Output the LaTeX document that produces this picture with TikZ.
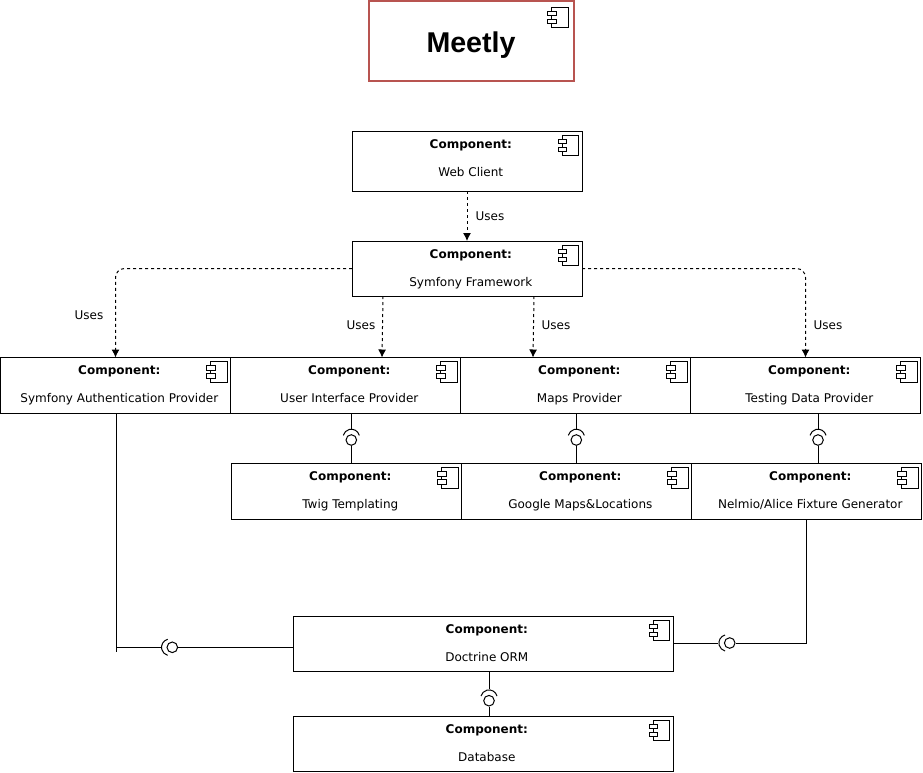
\documentclass[tikz,border=0pt]{standalone}
\usepackage{fontspec}
\usepackage{tikz}
\usetikzlibrary{arrows.meta}
\setmainfont{DejaVu Sans}
\newfontfamily\titlefont{Liberation Sans}
\tikzset{
    compframe/.style={draw=black, inner sep=0pt, outer sep=0pt},
    comptitle/.style={anchor=base, inner sep=0pt, font=\fontsize{12}{14}\selectfont\bfseries},
    compname/.style={anchor=base, inner sep=0pt, font=\fontsize{12}{14}\selectfont},
    useslabel/.style={inner sep=0pt, font=\fontsize{12}{14}\selectfont},
    usesarrow/.style={dash pattern=on 3pt off 3pt, -{Latex[length=8pt,width=8pt]}},
    ifacering/.style={circle, draw=black, inner sep=0pt, minimum size=10.6pt},
    pics/compicon/.style={code={
        \draw (-16.5,0) rectangle (0,-20.5);
        \draw[fill=white] (-20.5,-4) rectangle (-12,-8.7);
        \draw[fill=white] (-20.5,-12) rectangle (-12,-16.7);
    }},
    pics/ifacesocket/.style={code={
        \draw (2.5,0) ++(-75:8.3pt) arc[start angle=-75, end angle=75, radius=8.3pt];
    }},
}
\newcommand{\compbox}[6]{
    \node[compframe, minimum width=#4, minimum height=#5, anchor=north] (#1) at (#2,-#3) {};
    \node[comptitle] (#1title) at ([shift={(3.8,-17)}]#1.north) {Component:};
    \node[compname] (#1name) at ([shift={(3.8,-45)}]#1.north) {#6};
    \pic at ([shift={(-3.5,-4)}]#1.north east) {compicon};
}
\begin{document}
\begin{tikzpicture}[x=1pt, y=1pt, line width=1pt]
    \useasboundingbox (0,0) rectangle (923,-772);

    \node[draw={rgb,255:red,184;green,84;blue,80}, line width=2pt, inner sep=0pt, minimum width=205, minimum height=80] (meetly) at (471.5,-41) {};
    \node[anchor=base, inner sep=0pt, font=\titlefont\fontsize{28.6}{32}\selectfont\bfseries] (meetlyname) at (471,-52) {Meetly};
    \pic at ([shift={(-7,-7)}]meetly.north east) {compicon};

    \compbox{webclient}{467}{131}{230}{60}{Web Client}
    \compbox{symfony}{467}{241}{230}{55}{Symfony Framework}
    \compbox{authprov}{115.5}{357.5}{230}{55.5}{Symfony Authentication Provider}
    \compbox{uiprov}{345.5}{357.5}{230}{55.5}{User Interface Provider}
    \compbox{mapsprov}{575.5}{357.5}{230}{55.5}{Maps Provider}
    \compbox{testprov}{805.5}{357.5}{230}{55.5}{Testing Data Provider}
    \compbox{twig}{346.5}{463.5}{230}{55.5}{Twig Templating}
    \compbox{gmaps}{576.5}{463.5}{230}{55.5}{Google Maps\&Locations}
    \compbox{nelmio}{806.5}{463.5}{230}{55.5}{Nelmio/Alice Fixture Generator}
    \compbox{doctrine}{483}{616}{380}{55}{Doctrine ORM}
    \compbox{database}{483}{716}{380}{55}{Database}

    \coordinate (symfonyleft) at (352,-268.5);
    \coordinate (symfonyright) at (582,-268.5);
    \draw[usesarrow] (webclient.south) -- (symfony.north);
    \draw[usesarrow, rounded corners=9pt] (symfonyleft) -| (authprov.north);
    \draw[usesarrow, rounded corners=9pt] (symfonyright) -| (testprov.north);
    \coordinate (uitop) at (383,-296);
    \coordinate (mapstop) at (534,-296);
    \coordinate (uiend) at (382,-357.5);
    \coordinate (mapsend) at (533,-357.5);
    \draw[usesarrow] (uitop) -- (uiend);
    \draw[usesarrow] (mapstop) -- (mapsend);

    \node[useslabel] (usesweb) at (490,-216.5) {Uses};
    \node[useslabel] (usesauth) at (89,-315.5) {Uses};
    \node[useslabel] (usesui) at (361,-325.5) {Uses};
    \node[useslabel] (usesmaps) at (556,-325.5) {Uses};
    \node[useslabel] (usestest) at (828,-325.5) {Uses};

    \node[ifacering] (uiring) at (351.3,-440) {};
    \node[ifacering] (mapsring) at (576.3,-440) {};
    \node[ifacering] (testring) at (818,-440) {};
    \node[ifacering] (dbring) at (489,-700.7) {};
    \node[ifacering] (authring) at (172.3,-647.3) {};
    \node[ifacering] (nelmioring) at (729.7,-643) {};
    \pic[rotate=90] at (uiring) {ifacesocket};
    \pic[rotate=90] at (mapsring) {ifacesocket};
    \pic[rotate=90] at (testring) {ifacesocket};
    \pic[rotate=90] at (dbring) {ifacesocket};
    \pic[rotate=180] at (authring) {ifacesocket};
    \pic[rotate=180] at (nelmioring) {ifacesocket};

    \draw[shorten >=5.5pt] (uiring |- uiprov.south) -- (uiring.north);
    \draw (uiring.south) -- (uiring |- twig.north);
    \draw[shorten >=5.5pt] (mapsring |- mapsprov.south) -- (mapsring.north);
    \draw (mapsring.south) -- (mapsring |- gmaps.north);
    \draw[shorten >=5.5pt] (testring |- testprov.south) -- (testring.north);
    \draw (testring.south) -- (testring |- nelmio.north);
    \draw[shorten >=5.5pt] (dbring |- doctrine.south) -- (dbring.north);
    \draw (dbring.south) -- (dbring |- database.north);

    \coordinate (authend) at (116,-651.5);
    \draw (authend |- authprov.south) -- (authend);
    \draw[shorten >=5.5pt] (authend |- authring) -- (authring.west);
    \draw (authring.east) -- (authring -| doctrine.west);

    \coordinate (nelmioend) at (806.5,-643);
    \draw (nelmio.south) -- (nelmioend);
    \draw (nelmioend) -- (nelmioring.east);
    \draw[shorten >=5.5pt] (nelmioring -| doctrine.east) -- (nelmioring.west);
\end{tikzpicture}
\end{document}
